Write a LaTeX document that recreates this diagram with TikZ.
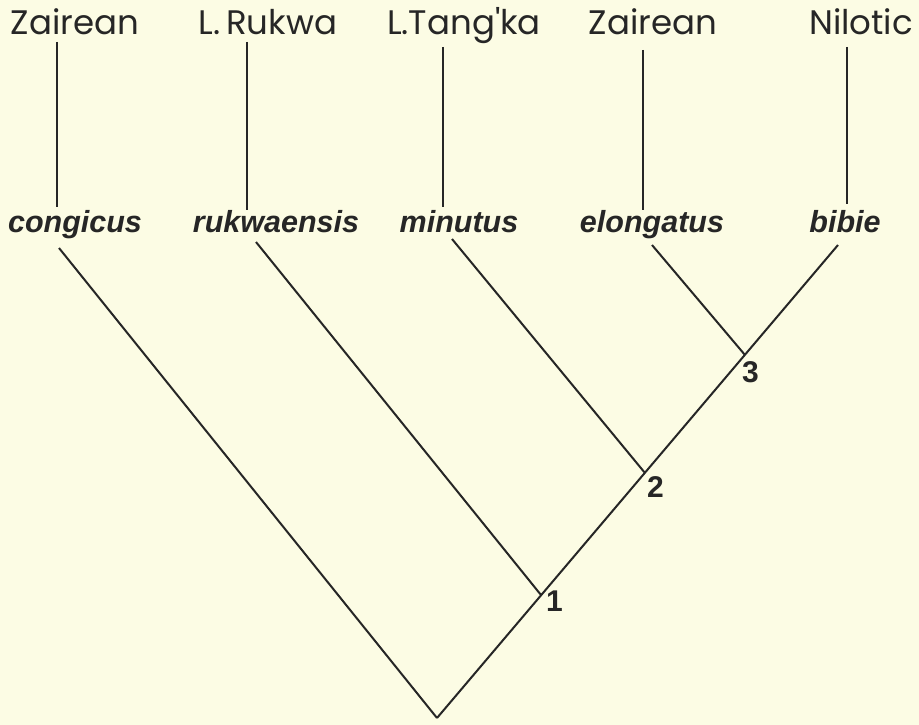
\documentclass[tikz,border=0pt]{standalone}
\usepackage{fontspec}
\setmainfont{Liberation Sans}
\newfontfamily\geofont{Poppins}
\usetikzlibrary{positioning}
\definecolor{paper}{RGB}{252,252,228}
\definecolor{ink}{RGB}{38,38,38}
\tikzset{region/.style={font=\geofont\fontsize{34}{38}\selectfont,text=ink,inner sep=0pt,anchor=base},
         species/.style={font=\bfseries\itshape\fontsize{30.5}{34}\selectfont,text=ink,inner sep=0pt,anchor=base},
         num/.style={font=\bfseries\fontsize{30}{32}\selectfont,text=ink,inner sep=1pt},
         branch/.style={draw=ink,line width=2pt}}

\begin{document}
\begin{tikzpicture}[x=1pt,y=-1pt]
    \fill[paper] (0,0) rectangle (919,725);
    \useasboundingbox (0,0) rectangle (919,725);
    % regions
    \node[region] (zai1) at (75,35)  {Zairean};
    \node[region] (ruk)  at (268,35) {L.\,Rukwa};
    \node[region] (tan)  at (464,35) {L.Tang'ka};
    \node[region] (zai2) at (653,35) {Zairean};
    \node[region] (nil)  at (861,35) {Nilotic};
    % species
    \node[species] (cong) at (75,232)  {congicus};
    \node[species] (rukw) at (276,232) {rukwaensis};
    \node[species] (minu) at (459,232) {minutus};
    \node[species] (elon) at (652,232) {elongatus};
    \node[species] (bibi) at (845,232) {bibie};
    % line ends
    \coordinate (u1) at (57,42);  \coordinate (v1) at (57,207);
    \coordinate (u2) at (247,42); \coordinate (v2) at (247,210);
    \coordinate (u3) at (443,47); \coordinate (v3) at (443,207);
    \coordinate (u4) at (643,50); \coordinate (v4) at (643,210);
    \coordinate (u5) at (847,47); \coordinate (v5) at (847,204);
    \coordinate (c1) at (59,248);  \coordinate (c2) at (256,242);
    \coordinate (c3) at (452,239); \coordinate (c4) at (652,245);
    \coordinate (c5) at (838,245);
    % tree
    \coordinate (root) at (437,718);
    \coordinate (n1) at (541,595);
    \coordinate (n2) at (645,473);
    \coordinate (n3) at (745,355);
    \node[num,below right=-5pt and 4pt of n1] (l1) {1};
    \node[num,below right=2pt and 1pt of n2] (l2) {2};
    \node[num,below right=5pt and -4pt of n3] (l3) {3};
    \path[branch]
        (u1) edge (v1) (u2) edge (v2) (u3) edge (v3) (u4) edge (v4) (u5) edge (v5)
        (c1) edge (root)
        (c2) edge (n1)
        (c3) edge (n2)
        (c4) edge (n3)
        (root) edge (c5)
        ;
\end{tikzpicture}
\end{document}
